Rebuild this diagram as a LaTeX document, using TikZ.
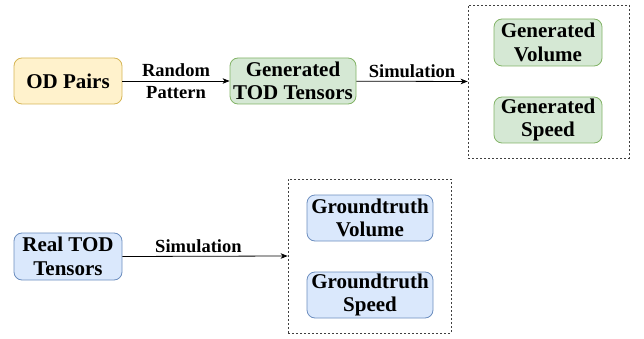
\documentclass[tikz,border=0pt]{standalone}
\usepackage{fontspec}
\setmainfont{Liberation Serif}
\usetikzlibrary{arrows.meta}
\definecolor{yfill}{HTML}{FFF2CC}\definecolor{ydraw}{HTML}{D6B656}
\definecolor{gfill}{HTML}{D5E8D4}\definecolor{gdraw}{HTML}{82B366}
\definecolor{bfill}{HTML}{DAE8FC}\definecolor{bdraw}{HTML}{6C8EBF}
\tikzset{
  box/.style={draw, line width=0.8pt, rounded corners=8pt, inner sep=0pt, align=center,
    font=\fontsize{21}{23.5}\selectfont\bfseries},
  ybox/.style={box, fill=yfill, draw=ydraw},
  gbox/.style={box, fill=gfill, draw=gdraw},
  bbox/.style={box, fill=bfill, draw=bdraw},
  group/.style={draw=black!75, line width=0.7pt, dash pattern=on 2pt off 2pt, inner sep=0pt},
  conn/.style={line width=0.8pt, -{Stealth[length=7pt,width=5.5pt,inset=2pt]}},
  lbl/.style={font=\fontsize{18.5}{22}\selectfont\bfseries, align=center, inner sep=0pt}
}
\begin{document}
\begin{tikzpicture}[x=1pt,y=-1pt]
\useasboundingbox (0,0) rectangle (644,339);
% top row
\node[ybox, minimum width=108pt, minimum height=46pt] (od) at (68,81) {OD Pairs};
\node[gbox, minimum width=126pt, minimum height=46pt] (gtod) at (293,81) {Generated\\TOD Tensors};
\node[group, minimum width=161pt, minimum height=153pt] (ggrp) at (548.5,81.5) {};
\node[gbox, minimum width=108pt, minimum height=47pt] (gvol) at (548,42.5) {Generated\\Volume};
\node[gbox, minimum width=108pt, minimum height=46pt] (gspd) at (548,120) {Generated\\Speed};
\draw[conn] (od) -- (gtod) node[lbl, midway] {Random\\Pattern};
\draw[conn] (gtod) -- (ggrp.west) node[lbl, midway, above=3pt] (sim1) {Simulation};
% bottom row
\node[bbox, minimum width=108pt, minimum height=47pt] (real) at (68,256.5) {Real TOD\\Tensors};
\node[group, minimum width=163pt, minimum height=154pt] (tgrp) at (369.5,256) {};
\node[bbox, minimum width=126pt, minimum height=46pt] (tvol) at (370,218) {Groundtruth\\Volume};
\node[bbox, minimum width=126pt, minimum height=46pt] (tspd) at (370,295) {Groundtruth\\Speed};
\draw[conn] (real.east) -- (tgrp.west) node[lbl, pos=0.46, above=3pt] (sim2) {Simulation};
\end{tikzpicture}
\end{document}
